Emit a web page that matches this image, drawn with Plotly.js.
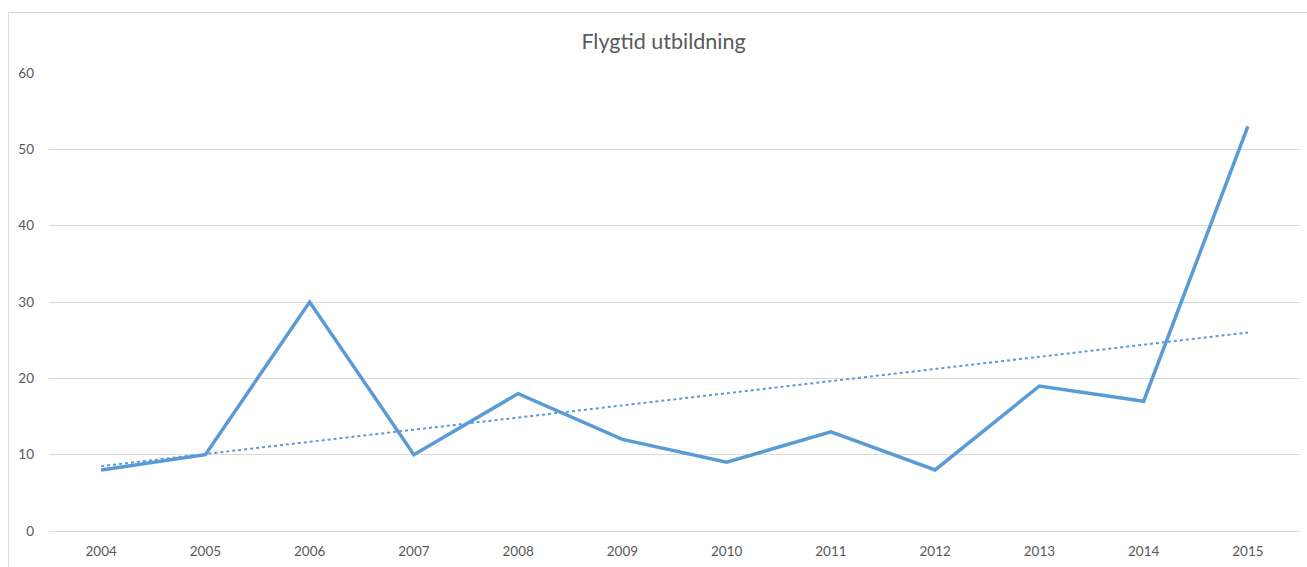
<!DOCTYPE html>
<html>
<head>
<meta charset="utf-8">
<script src="https://cdn.plot.ly/plotly-3.0.1.min.js"></script>
<style>
html,body{margin:0;padding:0;background:#fff;}
#chart{width:1307px;height:567px;}
</style>
</head>
<body>
<div id="chart"></div>
<script>
// Data
const years = ['2004','2005','2006','2007','2008','2009','2010','2011','2012','2013','2014','2015'];
const flygtid = [8, 10, 30, 10, 18, 12, 9, 13, 8, 19, 17, 53];
// Linear trendline end points
const trendYears = ['2004', '2015'];
const trendValues = [8.5, 26.0];
const yTicks = [0, 10, 20, 30, 40, 50, 60];

const W = 1307, H = 567;
const margin = {l: 49, r: 7, t: 73, b: 36};
const pw = W - margin.l - margin.r, ph = H - margin.t - margin.b;
const px = v => (v - margin.l) / pw;
const py = v => (H - margin.b - v) / ph;

const lineColor = '#5B9BD5';
const textColor = '#595959';
const gridColor = '#D9D9D9';
const fontFam = 'Lato, "Open Sans", sans-serif';

const traces = [
  {
    x: years, y: flygtid, type: 'scatter', mode: 'lines',
    line: {color: lineColor, width: 3.5},
    hoverinfo: 'x+y', showlegend: false
  },
  {
    x: trendYears, y: trendValues, type: 'scatter', mode: 'lines',
    line: {color: lineColor, width: 2, dash: 'dot'},
    hoverinfo: 'skip', showlegend: false
  }
];

const layout = {
  width: W, height: H,
  margin: margin,
  paper_bgcolor: '#ffffff', plot_bgcolor: '#ffffff',
  font: {family: fontFam, color: textColor, size: 13.5},
  title: {
    text: 'Flygtid utbildning',
    font: {family: fontFam, size: 21.5, color: textColor},
    x: 663.5 / W, xanchor: 'center', xref: 'container',
    y: 1 - 41 / H, yanchor: 'middle', yref: 'container'
  },
  xaxis: {
    type: 'category',
    categoryorder: 'array', categoryarray: years,
    range: [-0.5, years.length - 0.5],
    showgrid: false, zeroline: false, showline: false,
    ticks: '', ticklabelstandoff: 10,
    tickfont: {size: 13.5, color: textColor},
    fixedrange: true
  },
  yaxis: {
    range: [0, 60],
    tickvals: yTicks, ticktext: yTicks.map(String),
    showgrid: true, gridcolor: gridColor, gridwidth: 1,
    zeroline: true, zerolinecolor: gridColor, zerolinewidth: 1,
    showline: false, ticks: '', ticklabelstandoff: 14,
    tickfont: {size: 13.5, color: textColor},
    fixedrange: true
  },
  shapes: [
    {
      type: 'rect', xref: 'paper', yref: 'paper', layer: 'below',
      x0: px(8.5), x1: px(1330), y0: py(12.5), y1: py(600),
      line: {color: gridColor, width: 1}, fillcolor: 'rgba(0,0,0,0)'
    }
  ]
};

Plotly.newPlot('chart', traces, layout, {displayModeBar: false, staticPlot: true});
</script>
</body>
</html>
